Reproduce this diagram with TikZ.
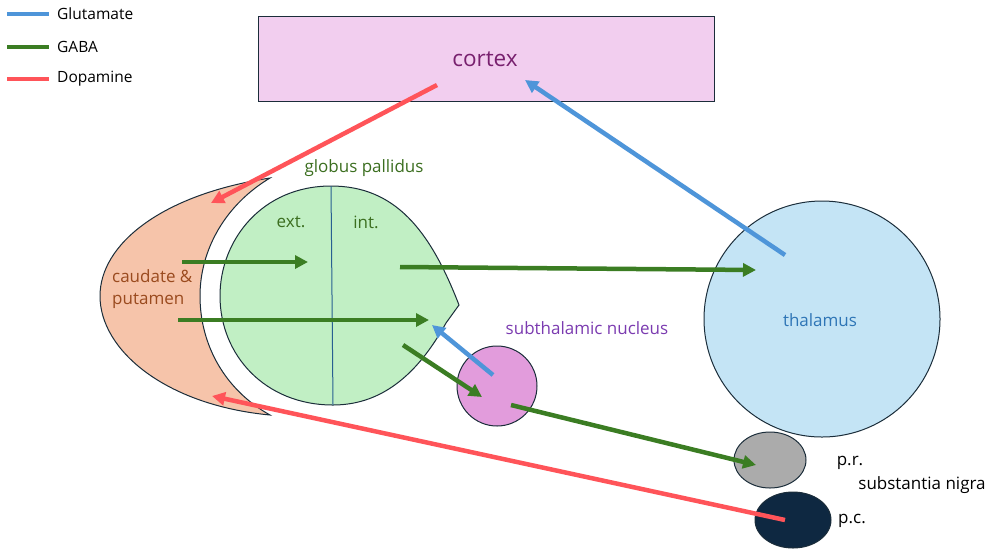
\documentclass[tikz,border=0pt]{standalone}
\usepackage{fontspec}
\setmainfont{Open Sans}
\usetikzlibrary{arrows.meta}
\definecolor{glu}{HTML}{4E95D9}
\definecolor{gaba}{HTML}{3B7D23}
\definecolor{dopa}{HTML}{FF5459}
\definecolor{edge}{HTML}{1B2D3A}
\definecolor{ctxfill}{HTML}{F2CEEF}
\definecolor{ctxtext}{HTML}{78206E}
\definecolor{cpfill}{HTML}{F6C4AA}
\definecolor{cptext}{HTML}{9A4A1E}
\definecolor{gpfill}{HTML}{C1EFC4}
\definecolor{gptext}{HTML}{3B6E1F}
\definecolor{stnfill}{HTML}{E29CDC}
\definecolor{stntext}{HTML}{7B3BB0}
\definecolor{thfill}{HTML}{C4E4F5}
\definecolor{thtext}{HTML}{2E75B6}
\definecolor{prfill}{HTML}{ABABAB}
\definecolor{pcfill}{HTML}{0E2841}
\tikzset{
  conn/.style={line width=4.5pt, -{Triangle[length=13pt,width=13pt]}},
  legline/.style={line width=4.5pt},
  lab/.style={font=\fontsize{17}{22}\selectfont, inner sep=0pt},
  leglab/.style={font=\fontsize{15.5}{18}\selectfont, inner sep=0pt},
  region/.style={draw=edge, line width=1pt}
}
\begin{document}
\begin{tikzpicture}[x=1pt,y=-1pt]
\useasboundingbox (0,0) rectangle (992,550);
% legend
\coordinate (l1a) at (7,14); \coordinate (l1b) at (49,14);
\coordinate (l2a) at (7,47); \coordinate (l2b) at (49,47);
\coordinate (l3a) at (7,79); \coordinate (l3b) at (49,79);
\draw[legline, glu] (l1a) -- (l1b);
\draw[legline, gaba] (l2a) -- (l2b);
\draw[legline, dopa] (l3a) -- (l3b);
\node[leglab, anchor=west] (lg1) at (57,14) {Glutamate};
\node[leglab, anchor=west] (lg2) at (57,47) {GABA};
\node[leglab, anchor=west] (lg3) at (57,79) {Dopamine};
% cortex
\draw[region, fill=ctxfill] (258,16) rectangle (714,101);
\node[font=\fontsize{22.5}{26}\selectfont, text=ctxtext] (cortex) at (485,59) {cortex};
% caudate & putamen crescent
\draw[region, fill=cpfill] (270,178) .. controls (160,195) and (100,245) .. (100,296)
  .. controls (100,350) and (165,405) .. (270,415)
  .. controls (225,390) and (200,345) .. (200,296)
  .. controls (200,250) and (225,205) .. (270,178) -- cycle;
\node[lab, text=cptext, align=left, anchor=west] (cp) at (112,289) {caudate \&\\putamen};
% globus pallidus
\draw[region, fill=gpfill] (459,305) .. controls (430,230) and (395,186) .. (331,186)
  .. controls (262,186) and (220,240) .. (220,296)
  .. controls (220,355) and (265,405) .. (333,405)
  .. controls (385,405) and (420,370) .. (446,323) -- cycle;
\draw[line width=1pt, draw=thtext!70!edge] (331,186) -- (333,405);
\node[lab, text=gptext] (gp) at (364,168) {globus pallidus};
\node[lab, text=gptext] (ext) at (291,222) {ext.};
\node[lab, text=gptext] (int) at (366,222) {int.};
% subthalamic nucleus
\node[region, circle, fill=stnfill, minimum size=80pt, inner sep=0pt] (stn) at (497,386) {};
\node[lab, text=stntext] (stnl) at (587,328) {subthalamic nucleus};
% thalamus
\node[region, circle, fill=thfill, minimum size=236pt, inner sep=0pt] (th) at (822,319) {};
\node[lab, text=thtext] (thl) at (820,320) {thalamus};
% substantia nigra
\draw[region, fill=prfill] (770,460) ellipse [x radius=36, y radius=28];
\draw[region, fill=pcfill] (793,520) ellipse [x radius=38, y radius=28];
\node[lab] (prl) at (850,463) {p.r.};
\node[lab] (pcl) at (852,521) {p.c.};
\node[lab] (snl) at (922,485) {substantia nigra};
% connectors
\coordinate (a1s) at (437,85); \coordinate (a1e) at (211,203);
\coordinate (a2s) at (785,255); \coordinate (a2e) at (525,80);
\coordinate (a3s) at (182,262); \coordinate (a3e) at (308,262);
\coordinate (a4s) at (178,320); \coordinate (a4e) at (429,320);
\coordinate (a5s) at (400,267); \coordinate (a5e) at (756,270);
\coordinate (a6s) at (493,375); \coordinate (a6e) at (432,325);
\coordinate (a7s) at (403,345); \coordinate (a7e) at (482,397);
\coordinate (a8s) at (511,405); \coordinate (a8e) at (756,465);
\coordinate (a9s) at (785,520); \coordinate (a9e) at (212,396);
\draw[conn, dopa] (a1s) -- (a1e);
\draw[conn, glu] (a2s) -- (a2e);
\draw[conn, gaba] (a3s) -- (a3e);
\draw[conn, gaba] (a4s) -- (a4e);
\draw[conn, gaba] (a5s) -- (a5e);
\draw[conn, glu] (a6s) -- (a6e);
\draw[conn, gaba] (a7s) -- (a7e);
\draw[conn, gaba] (a8s) -- (a8e);
\draw[conn, dopa] (a9s) -- (a9e);
\end{tikzpicture}
\end{document}
